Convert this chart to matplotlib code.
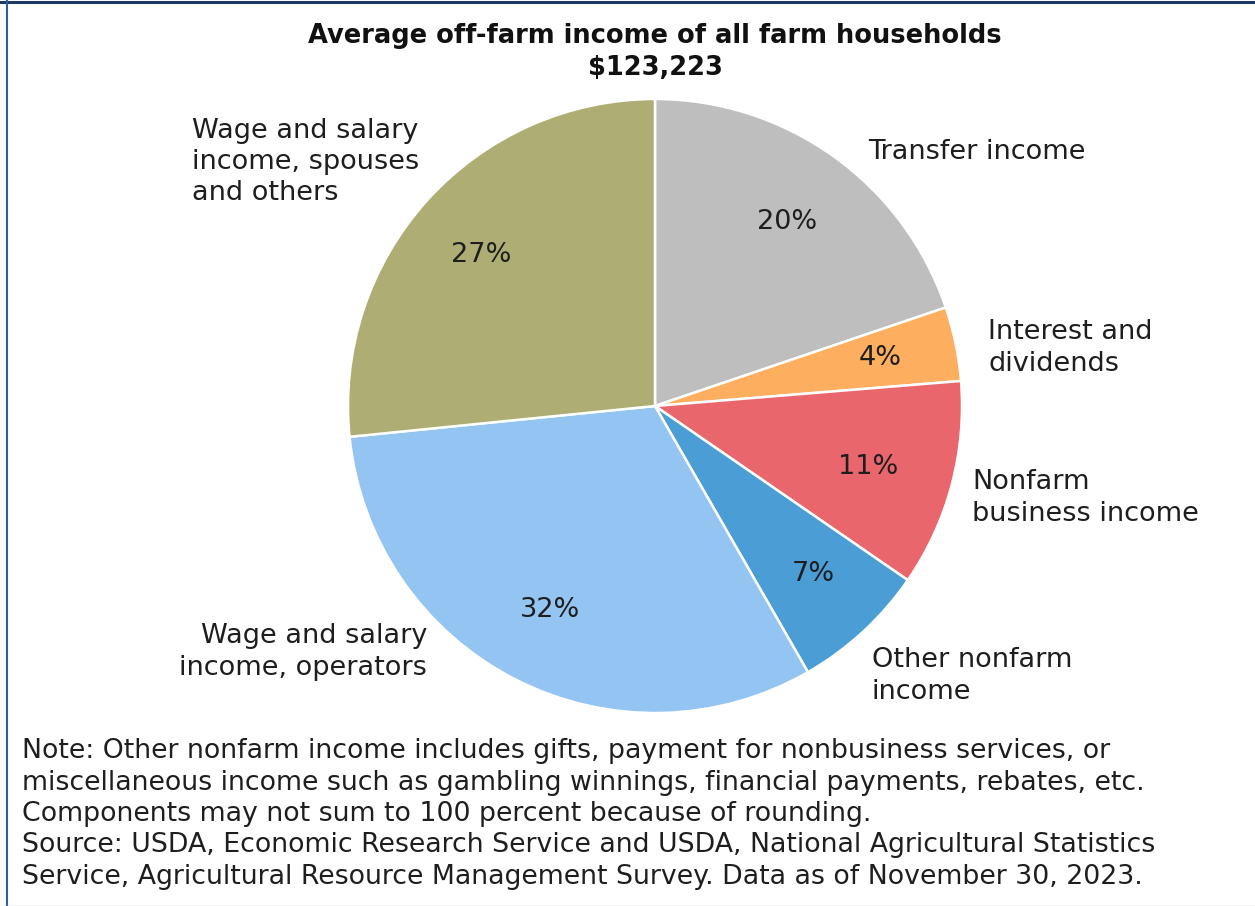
import matplotlib
matplotlib.use("Agg")
import matplotlib.pyplot as plt
from matplotlib.lines import Line2D

plt.rcParams['font.family'] = ['DejaVu Sans']

categories = ["Transfer income", "Interest and\ndividends", "Nonfarm\nbusiness income",
              "Other nonfarm\nincome", "Wage and salary\nincome, operators",
              "Wage and salary\nincome, spouses\nand others"]
shares = [19.8, 3.9, 10.9, 7.1, 31.7, 26.6]
pct_labels = ["20%", "4%", "11%", "7%", "32%", "27%"]
colors = ["#BEBEBE", "#FDAE5E", "#E9666C", "#4A9DD5", "#94C4F2", "#AEAE74"]

title = "Average off-farm income of all farm households\n$123,223"
note = ("Note: Other nonfarm income includes gifts, payment for nonbusiness services, or\n"
        "miscellaneous income such as gambling winnings, financial payments, rebates, etc.\n"
        "Components may not sum to 100 percent because of rounding.\n"
        "Source: USDA, Economic Research Service and USDA, National Agricultural Statistics\n"
        "Service, Agricultural Resource Management Survey. Data as of November 30, 2023.")

W, H = 1255, 906
fig = plt.figure(figsize=(W / 100, H / 100), dpi=100)
ax = fig.add_axes([0, 0, 1, 1])

def Y(py):
    return H - py

cx, cy, r = 655, 406, 307
ax.pie(shares, colors=colors, startangle=90, counterclock=False,
       center=(cx, Y(cy)), radius=r, frame=True,
       wedgeprops=dict(edgecolor="white", linewidth=1.8))
ax.set_xlim(0, W)
ax.set_ylim(0, H)
ax.set_aspect('auto')
ax.axis('off')

fs = 19.5
ls = 1.27
pct_pos = [(787, 222), (880, 358), (868, 467), (813, 574), (550, 610), (481, 255)]
for (px, py), t in zip(pct_pos, pct_labels):
    ax.text(px, Y(py), t, ha='center', va='center', fontsize=fs, color='#1E1E1E')

cat_specs = [
    (868, 152, 'left'),
    (988, 348, 'left'),
    (972, 498, 'left'),
    (872, 676, 'left'),
    (427, 652, 'right'),
    (192, 162, 'left'),
]
for (px, py, ha), t in zip(cat_specs, categories):
    ax.text(px, Y(py), t, ha=ha, va='center', fontsize=fs, color='#1E1E1E',
            linespacing=ls, multialignment=ha)

ax.text(655, Y(52), title, ha='center', va='center', fontsize=18.5,
        fontweight='bold', color='#111111', linespacing=1.27)

ax.text(22, Y(814), note, ha='left', va='center', fontsize=19.3,
        color='#1E1E1E', linespacing=ls)

fig.add_artist(Line2D([0, 1], [1 - 1.5 / H, 1 - 1.5 / H], color='#1F3864', lw=2.2))
fig.add_artist(Line2D([6.5 / W, 6.5 / W], [0, 1], color='#2E5E9E', lw=1.5))
fig.add_artist(Line2D([0, 1], [0.5 / H, 0.5 / H], color='#CCCCCC', lw=1))

fig.savefig("out.png", dpi=100)
